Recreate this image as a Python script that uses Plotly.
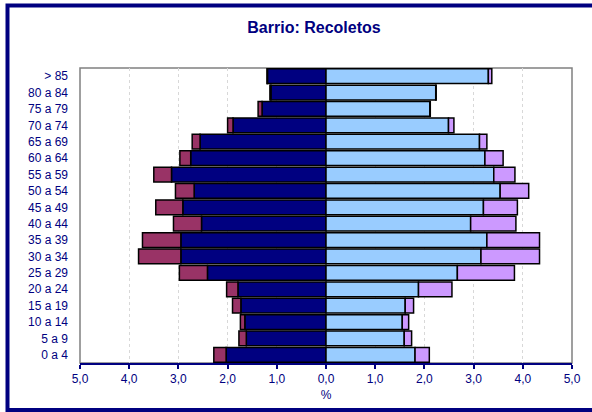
import plotly.graph_objects as go

age_groups = ["0 a 4", "5 a 9", "10 a 14", "15 a 19", "20 a 24", "25 a 29", "30 a 34",
              "35 a 39", "40 a 44", "45 a 49", "50 a 54", "55 a 59", "60 a 64",
              "65 a 69", "70 a 74", "75 a 79", "80 a 84", "> 85"]

men_national = [2.03, 1.62, 1.65, 1.73, 1.79, 2.41, 2.95, 2.95, 2.53, 2.91, 2.68, 3.14,
                2.75, 2.56, 1.89, 1.30, 1.12, 1.19]
men_foreign = [0.25, 0.15, 0.09, 0.17, 0.23, 0.57, 0.86, 0.78, 0.57, 0.55, 0.38, 0.36,
               0.22, 0.16, 0.11, 0.08, 0.02, 0.01]
women_national = [1.81, 1.59, 1.55, 1.61, 1.88, 2.67, 3.15, 3.27, 2.94, 3.20, 3.54, 3.41,
                  3.23, 3.12, 2.49, 2.11, 2.23, 3.30]
women_foreign = [0.29, 0.15, 0.13, 0.17, 0.68, 1.16, 1.19, 1.07, 0.92, 0.69, 0.58, 0.43,
                 0.37, 0.15, 0.11, 0.01, 0.01, 0.07]

tick_vals = [-5, -4, -3, -2, -1, 0, 1, 2, 3, 4, 5]
tick_text = ["5,0", "4,0", "3,0", "2,0", "1,0", "0,0", "1,0", "2,0", "3,0", "4,0", "5,0"]

NAVY = "#000080"
font_family = "Liberation Sans, Arial, sans-serif"

fig = go.Figure()
line = dict(color="black", width=1.5)
fig.add_trace(go.Bar(y=age_groups, x=[-v for v in men_national], orientation="h",
                     marker=dict(color="#000080", line=line)))
fig.add_trace(go.Bar(y=age_groups, x=[-v for v in men_foreign], orientation="h",
                     marker=dict(color="#993366", line=line)))
fig.add_trace(go.Bar(y=age_groups, x=women_national, orientation="h",
                     marker=dict(color="#99CCFF", line=line)))
fig.add_trace(go.Bar(y=age_groups, x=women_foreign, orientation="h",
                     marker=dict(color="#CC99FF", line=line)))

L, R, T, B = 80, 20, 68, 49
W, H = 592, 412
pw, ph = W - L - R, H - T - B

def px2x(px):
    return (px - L) / pw

def py2y(py):
    return (H - B - py) / ph

fig.update_layout(
    width=W, height=H,
    margin=dict(l=L, r=R, t=T, b=B, pad=0),
    barmode="relative",
    bargap=0.1,
    showlegend=False,
    paper_bgcolor="white",
    plot_bgcolor="white",
    font=dict(family=font_family, color=NAVY, size=12),
    title=dict(text="<b>Barrio: Recoletos</b>", x=314 / W,
               xanchor="center", y=1 - 27 / H, yanchor="middle",
               font=dict(size=16, color=NAVY, family=font_family)),
    xaxis=dict(range=[-5, 5], tickvals=tick_vals, ticktext=tick_text,
               showgrid=True, gridcolor="#D8D8D8", griddash="dot", gridwidth=1,
               zeroline=False, showline=True, linecolor=NAVY, linewidth=2,
               ticks="outside", ticklen=4, tickcolor=NAVY, tickwidth=2,
               tickfont=dict(size=12, color=NAVY),
               title=dict(text="%", font=dict(size=12, color=NAVY), standoff=5)),
    yaxis=dict(showgrid=False, zeroline=False, showline=False, ticks="",
               tickfont=dict(size=12, color=NAVY), ticklabelstandoff=11),
    shapes=[
        # plot area border (gray)
        dict(type="rect", xref="paper", yref="paper", x0=0, x1=1, y0=0, y1=1,
             line=dict(color="#808080", width=1.5), layer="below"),
        # outer chart frame
        dict(type="rect", xref="paper", yref="paper",
             x0=px2x(7.5), x1=px2x(610), y0=py2y(410), y1=py2y(5.5),
             line=dict(color=NAVY, width=4)),
    ],
)

fig.write_html("out.html", config={"displayModeBar": False},
               post_script="document.body.style.margin='0';document.body.style.overflow='hidden';")
